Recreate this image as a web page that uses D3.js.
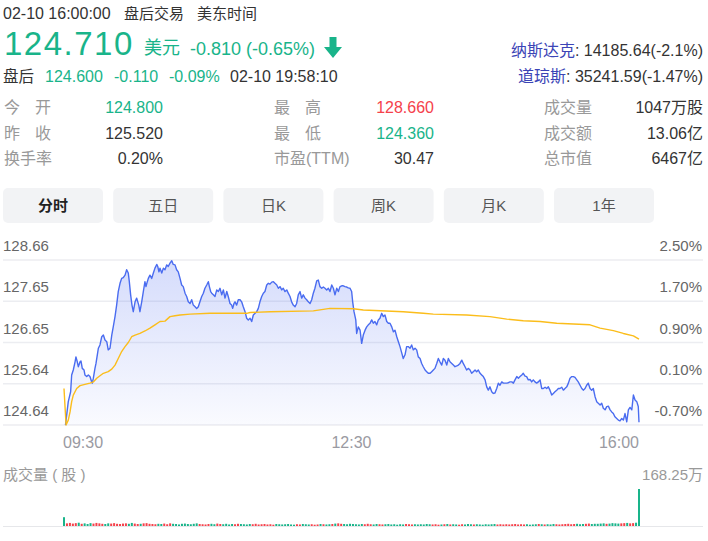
<!DOCTYPE html>
<html><head><meta charset="utf-8">
<script src="https://cdn.jsdelivr.net/npm/d3@7"></script>
<style>
html,body{margin:0;padding:0;background:#fff;}
svg{display:block;font-family:"Liberation Sans","Noto Sans CJK SC",Arial,sans-serif;}
</style></head><body>
<svg id="c" width="708" height="541"></svg>
<script>
// ---------------- data ----------------
const prevClose = 125.52;
const pctTicks = [2.5, 1.7, 0.9, 0.1, -0.7];
const priceTickLabels = ["128.66", "127.65", "126.65", "125.64", "124.64"];
const pctTickLabels = ["2.50%", "1.70%", "0.90%", "0.10%", "-0.70%"];
const timeTickLabels = ["09:30", "12:30", "16:00"];
const timeTickMinutes = [0, 195, 390];

const tabs = ["分时", "五日", "日K", "周K", "月K", "1年"];
const quoteLabels = [["今开", "昨收", "换手率"], ["最高", "最低", "市盈(TTM)"], ["成交量", "成交额", "总市值"]];
const quoteValues = [["124.800", "125.520", "0.20%"], ["128.660", "124.360", "30.47"], ["1047万股", "13.06亿", "6467亿"]];
const quoteColors = [["up0", "n", "n"], ["red", "up0", "n"], ["n", "n", "n"]];

// minute since 09:30, last price
const tradePoints = [[1,124.64],[2.9,125.21],[4.5,125.45],[5.2,125.86],[6.3,125.98],[7.5,126.18],[8.1,126.30],[9.0,126.18],[9.7,126.06],[10.9,126.18],[11.5,126.20],[12.4,126.02],[13.6,125.98],[14.2,125.86],[15.4,125.82],[16.5,125.86],[17.6,125.82],[18.8,125.69],[19.2,125.66],[19.9,125.78],[21.0,126.02],[21.7,126.14],[22.6,126.35],[23.3,126.51],[24.4,126.59],[25.6,126.79],[26.7,126.83],[27.8,126.71],[29.0,126.67],[30.0,126.47],[31.2,126.51],[32.4,126.83],[33.4,127.03],[34.6,127.28],[35.7,127.56],[36.8,127.89],[38.0,128.09],[39.1,128.21],[40.2,128.23],[41.4,128.29],[42.5,128.42],[43.6,128.34],[44.3,128.13],[45.2,127.81],[46.1,127.56],[47.0,127.40],[48.2,127.64],[49.3,127.73],[50.7,127.56],[51.5,127.40],[52.7,127.64],[53.8,127.89],[54.9,128.13],[55.6,128.01],[56.5,128.13],[57.2,128.21],[58.3,128.29],[59.5,128.21],[60.6,128.34],[61.7,128.46],[62.9,128.55],[63.6,128.50],[64.4,128.37],[65.1,128.46],[66.3,128.34],[67.4,128.46],[68.5,128.42],[69.7,128.54],[70.7,128.50],[71.9,128.58],[73.1,128.64],[74.1,128.55],[75.3,128.54],[76.4,128.42],[77.5,128.37],[78.7,128.21],[79.8,128.05],[80.9,128.01],[82.1,127.85],[83.2,127.77],[84.3,127.64],[85.5,127.60],[86.6,127.69],[87.7,127.56],[88.9,127.52],[90.0,127.48],[91.1,127.52],[92.2,127.64],[93.4,127.77],[94.5,127.85],[95.6,127.97],[96.8,128.05],[97.9,128.13],[98.6,128.01],[99.5,127.89],[100.2,127.85],[101.3,127.81],[102.4,127.77],[103.6,127.93],[104.7,127.89],[105.8,127.97],[107.0,127.81],[108.1,127.93],[109.2,127.73],[110.4,127.89],[111.4,127.77],[112.6,127.60],[113.7,127.56],[114.4,127.48],[115.3,127.60],[116.0,127.64],[117.1,127.56],[118.2,127.69],[119.4,127.69],[120.5,127.64],[121.6,127.52],[122.8,127.40],[123.9,127.24],[125.0,127.20],[126.2,127.24],[127.3,127.16],[128.4,127.32],[129.6,127.36],[130.7,127.40],[131.8,127.48],[132.9,127.64],[134.1,127.77],[135.2,127.85],[136.3,127.89],[137.5,128.05],[138.6,128.09],[139.7,128.07],[140.9,128.12],[142.0,128.13],[143.1,128.09],[144.3,128.05],[145.4,127.97],[146.5,128.01],[147.7,127.93],[148.7,127.97],[149.9,127.89],[151.1,127.93],[152.1,127.85],[153.3,127.77],[154.4,127.64],[155.5,127.56],[156.7,127.52],[157.8,127.60],[158.9,127.81],[160.1,127.89],[161.2,127.73],[162.3,127.81],[163.5,127.73],[164.6,127.69],[165.7,127.64],[166.9,127.60],[168.0,127.69],[169.1,127.85],[170.2,127.97],[171.4,128.15],[172.5,128.17],[173.6,128.01],[174.8,127.97],[175.9,128.00],[177.0,127.97],[178.2,127.93],[179.3,127.97],[180.4,127.89],[181.6,128.05],[182.7,127.97],[183.8,127.81],[185.0,127.97],[186.1,127.89],[187.2,128.01],[188.4,128.03],[189.4,128.03],[190.6,128.01],[191.8,128.00],[192.8,127.98],[194.0,127.97],[195.1,127.89],[195.8,127.64],[196.7,127.40],[197.9,127.20],[198.5,126.87],[199.6,127.03],[200.8,126.95],[201.9,126.63],[203.0,126.83],[204.2,126.95],[205.3,127.03],[206.4,127.08],[207.6,127.12],[208.7,127.20],[209.8,127.12],[210.9,127.16],[212.1,127.08],[213.2,127.20],[214.3,127.24],[215.5,127.36],[216.6,127.28],[217.7,127.32],[218.9,127.16],[220.0,127.12],[221.1,127.12],[222.3,127.03],[223.4,126.91],[224.5,126.95],[225.7,126.79],[226.8,126.67],[227.9,126.55],[229.1,126.39],[230.1,126.26],[231.3,126.35],[232.4,126.55],[233.5,126.55],[234.7,126.51],[235.8,126.59],[236.9,126.47],[238.1,126.51],[239.2,126.47],[240.3,126.30],[241.5,126.26],[242.6,126.14],[243.7,126.06],[244.9,125.98],[246.0,125.94],[247.1,125.90],[248.3,125.90],[249.4,125.94],[250.5,125.98],[251.6,126.02],[252.8,126.14],[253.9,126.26],[255.0,126.18],[256.2,126.10],[257.3,126.26],[258.4,126.22],[259.6,126.10],[260.7,126.26],[261.8,126.18],[263.0,126.14],[264.1,126.10],[265.2,126.06],[266.4,126.08],[267.5,126.10],[268.6,126.14],[269.8,126.22],[270.8,126.14],[272.0,126.06],[273.1,125.98],[274.2,126.02],[275.4,125.98],[276.5,125.90],[277.6,125.94],[278.8,125.98],[279.9,125.94],[281.0,125.98],[282.2,125.90],[283.3,125.86],[284.4,125.82],[285.6,125.74],[286.7,125.57],[287.8,125.49],[288.9,125.57],[290.1,125.45],[291.2,125.41],[292.3,125.42],[293.5,125.53],[294.6,125.66],[295.7,125.61],[296.9,125.69],[298.0,125.66],[299.1,125.66],[300.3,125.66],[301.4,125.67],[302.5,125.69],[303.7,125.69],[304.8,125.66],[305.9,125.74],[307.1,125.82],[308.2,125.78],[309.3,125.82],[310.5,125.86],[311.5,125.90],[312.7,125.83],[313.8,125.82],[314.9,125.74],[316.1,125.75],[317.2,125.69],[318.3,125.74],[319.5,125.69],[320.6,125.66],[321.7,125.69],[322.9,125.74],[324.0,125.53],[325.1,125.53],[326.3,125.56],[327.4,125.53],[328.5,125.57],[329.6,125.49],[330.8,125.37],[331.9,125.41],[333.0,125.45],[334.2,125.49],[335.3,125.53],[336.4,125.53],[337.6,125.56],[338.7,125.49],[339.8,125.53],[341.0,125.57],[342.1,125.66],[343.2,125.78],[344.4,125.82],[345.5,125.82],[346.6,125.80],[347.8,125.74],[348.8,125.69],[350.0,125.61],[351.2,125.53],[352.2,125.49],[353.4,125.53],[354.5,125.61],[355.6,125.66],[356.8,125.53],[357.9,125.49],[359.0,125.53],[360.2,125.33],[361.3,125.21],[362.4,125.17],[363.6,125.13],[364.7,125.17],[365.8,125.05],[367.0,125.01],[368.1,125.09],[369.2,125.10],[370.4,125.01],[371.5,124.96],[372.6,124.92],[373.7,124.84],[374.9,124.80],[376.0,124.76],[377.1,124.74],[378.3,124.80],[379.4,124.76],[380.5,124.92],[381.7,124.72],[382.8,125.01],[383.9,125.07],[385.1,125.01],[386.2,125.37],[387.3,125.25],[388.5,125.21],[389.5,125.09],[390,124.71]];

// minute since 09:30, average price
const avgPoints = [[0,125.53],[1.4,124.64],[2.9,124.76],[4.1,124.96],[5.2,125.21],[6.3,125.37],[8.6,125.53],[10.9,125.60],[14.2,125.63],[17.6,125.66],[19.9,125.69],[22.2,125.78],[24.4,125.84],[26.7,125.90],[30.0,125.94],[32.4,126.00],[34.6,126.10],[36.8,126.26],[39.1,126.43],[41.4,126.55],[43.6,126.65],[45.9,126.79],[48.2,126.83],[51.5,126.87],[54.9,126.93],[58.3,127.00],[61.7,127.08],[65.1,127.16],[68.5,127.17],[71.9,127.28],[75.3,127.30],[78.7,127.32],[85.5,127.34],[99.0,127.36],[123.9,127.36],[126.2,127.38],[139.7,127.40],[169.1,127.42],[180.4,127.48],[196.2,127.47],[203.0,127.44],[230.1,127.40],[243.7,127.36],[250.5,127.34],[273.1,127.32],[288.9,127.28],[300.3,127.22],[311.5,127.18],[322.9,127.16],[334.2,127.12],[345.5,127.10],[356.8,127.08],[363.6,127.00],[372.6,126.94],[379.4,126.87],[386.2,126.81],[390,126.73]];

// volume (万股) per 2-minute bucket from 09:30 to 16:00
const volumes = [40,
 12,14,11,13,15,10,12,9,13,11,14,12,10,9,12,11,13,10,9,11,12,10,14,11,9,10,12,13,10,9,
 8,10,9,11,8,12,10,9,7,10,11,9,8,10,12,9,8,7,9,10,8,11,9,8,10,7,9,8,10,9,
 8,7,9,8,10,7,8,9,7,8,6,9,8,7,8,9,7,6,8,7,9,8,7,8,6,7,9,8,7,8,
 9,11,12,10,9,8,10,9,8,7,9,8,10,8,7,9,8,7,8,9,7,8,6,8,7,9,8,7,8,7,
 8,7,9,8,7,8,6,7,8,9,7,8,7,6,8,7,9,8,7,8,7,6,8,7,8,9,7,8,7,8,
 7,8,9,7,8,7,8,6,7,8,9,8,7,8,7,9,8,7,8,9,10,8,9,10,8,9,10,11,9,10,
 10,11,12,10,11,13,12,11,12,13,14,12,13,15,
 168.25];
const volumeMax = 168.25;

// ---------------- drawing ----------------
const GREEN = "#19b48a", RED = "#f5414b", DARK = "#333", GRAY = "#999";
const svg = d3.select("#c");

function txt(x, y, s, size, fill, anchor, extra) {
  const t = svg.append("text").attr("x", x).attr("y", y).attr("font-size", size)
    .attr("fill", fill).attr("text-anchor", anchor || "start").text(s);
  if (extra) extra(t);
  return t;
}
txt(3, 19, "02-10 16:00:00", 16, DARK);
txt(124, 19, "盘后交易", 15, DARK);
txt(197, 19, "美东时间", 15, DARK);

txt(4, 55, "124.710", 33, GREEN, "start", t => t.attr("letter-spacing", 1.5));
txt(144, 54, "美元", 18, GREEN);
txt(190, 55, "-0.810 (-0.65%)", 18, GREEN);
svg.append("path").attr("d", "M329.5,37 h7 v10 h5.5 l-9,11 l-9,-11 h5.5 z").attr("fill", GREEN);

txt(3, 82, "盘后", 15.5, DARK);
txt(45, 82, "124.600", 16, GREEN);
txt(114, 82, "-0.110", 16, GREEN);
txt(169, 82, "-0.09%", 16, GREEN);
txt(230, 82, "02-10 19:58:10", 16, DARK);

const idx = [["纳斯达克", ": 14185.64(-2.1%)", 56], ["道琼斯", ": 35241.59(-1.47%)", 82]];
idx.forEach(d => {
  const t = svg.append("text").attr("x", 703).attr("y", d[2]).attr("font-size", 16).attr("text-anchor", "end");
  t.append("tspan").attr("fill", "#3b44b6").text(d[0]);
  t.append("tspan").attr("fill", DARK).text(d[1]);
});

// quote grid
const colLabelX = [4, 274, 544], colValueX = [163, 434, 703], rowY = [113, 139, 164];
quoteLabels.forEach((col, c) => col.forEach((lab, r) => {
  if (lab.length === 2) {
    txt(colLabelX[c], rowY[r], lab[0], 16, GRAY);
    txt(colLabelX[c] + 31, rowY[r], lab[1], 16, GRAY);
  } else {
    txt(colLabelX[c], rowY[r], lab, 16, GRAY);
  }
  const k = quoteColors[c][r];
  txt(colValueX[c], rowY[r], quoteValues[c][r], 16, k === "up0" ? GREEN : k === "red" ? RED : DARK, "end");
}));

// tabs
tabs.forEach((s, i) => {
  const x0 = 3 + i * 110.2;
  svg.append("rect").attr("x", x0).attr("y", 188).attr("width", 100).attr("height", 35)
    .attr("rx", 5).attr("fill", "#f2f3f5");
  txt(x0 + 50, 211, s, 15, i === 0 ? "#222" : "#555", "middle", t => { if (i === 0) t.attr("font-weight", "bold"); });
});

// price chart
const x = d3.scaleLinear().domain([0, 390]).range([64, 639]);
const y = d3.scaleLinear().domain([prevClose * (1 - 0.007), prevClose * (1 + 0.025)]).range([425, 260]);

const defs = svg.append("defs");
const g = defs.append("linearGradient").attr("id", "fill").attr("gradientUnits", "userSpaceOnUse")
  .attr("x1", 0).attr("x2", 0).attr("y1", 260).attr("y2", 425);
g.append("stop").attr("offset", 0).attr("stop-color", "#4f6cf0").attr("stop-opacity", 0.24);
g.append("stop").attr("offset", 1).attr("stop-color", "#4f6cf0").attr("stop-opacity", 0.03);

pctTicks.forEach((p, i) => {
  const v = prevClose * (1 + p / 100);
  svg.append("line").attr("x1", 3).attr("x2", 703).attr("y1", y(v)).attr("y2", y(v))
    .attr("stroke", "#ecedf1").attr("stroke-width", 1.5);
  txt(3, y(v) - 9, priceTickLabels[i], 15, "#666");
  txt(702, y(v) - 9, pctTickLabels[i], 15, "#666", "end");
});

timeTickMinutes.forEach((m, i) => {
  const anchor = i === 0 ? "start" : i === timeTickMinutes.length - 1 ? "end" : "middle";
  txt(x(m) - (i === 0 ? 1 : 0), 448, timeTickLabels[i], 16, "#9a9aa2", anchor);
});

svg.append("path").datum(tradePoints)
  .attr("d", d3.area().x(d => x(d[0])).y0(y.range()[0]).y1(d => y(d[1])))
  .attr("fill", "url(#fill)");
svg.append("path").datum(tradePoints)
  .attr("d", d3.line().x(d => x(d[0])).y(d => y(d[1])))
  .attr("fill", "none").attr("stroke", "#4a6cf0").attr("stroke-width", 1.4).attr("stroke-linejoin", "round");
svg.append("path").datum(avgPoints)
  .attr("d", d3.line().x(d => x(d[0])).y(d => y(d[1])))
  .attr("fill", "none").attr("stroke", "#fbbd1b").attr("stroke-width", 1.4).attr("stroke-linejoin", "round");

// volume
txt(3, 480, "成交量 ( 股 )", 15, GRAY, "start", t => t.attr("xml:space", "preserve"));
txt(703, 480, "168.25万", 15, GRAY, "end");
const yv = d3.scaleLinear().domain([0, volumeMax]).range([526, 489]);
svg.append("line").attr("x1", 3).attr("x2", 703).attr("y1", 526.5).attr("y2", 526.5)
  .attr("stroke", "#e6e7ea").attr("stroke-width", 1.2);

const bis = d3.bisector(d => d[0]).left;
function priceAt(t) {
  const i = bis(tradePoints, t);
  if (i <= 0) return tradePoints[0][1];
  if (i >= tradePoints.length) return tradePoints[tradePoints.length - 1][1];
  const a = tradePoints[i - 1], b = tradePoints[i];
  return a[1] + (b[1] - a[1]) * (t - a[0]) / (b[0] - a[0]);
}
svg.append("g").selectAll("rect").data(volumes).join("rect")
  .attr("x", (d, i) => x(i * 2) - 1)
  .attr("width", 2)
  .attr("y", d => yv(d))
  .attr("height", d => yv(0) - yv(d))
  .attr("fill", (d, i) => {
    if (i === 0) return GREEN;
    return priceAt(i * 2) >= priceAt(i * 2 - 2) ? RED : GREEN;
  });
</script>
</body></html>
